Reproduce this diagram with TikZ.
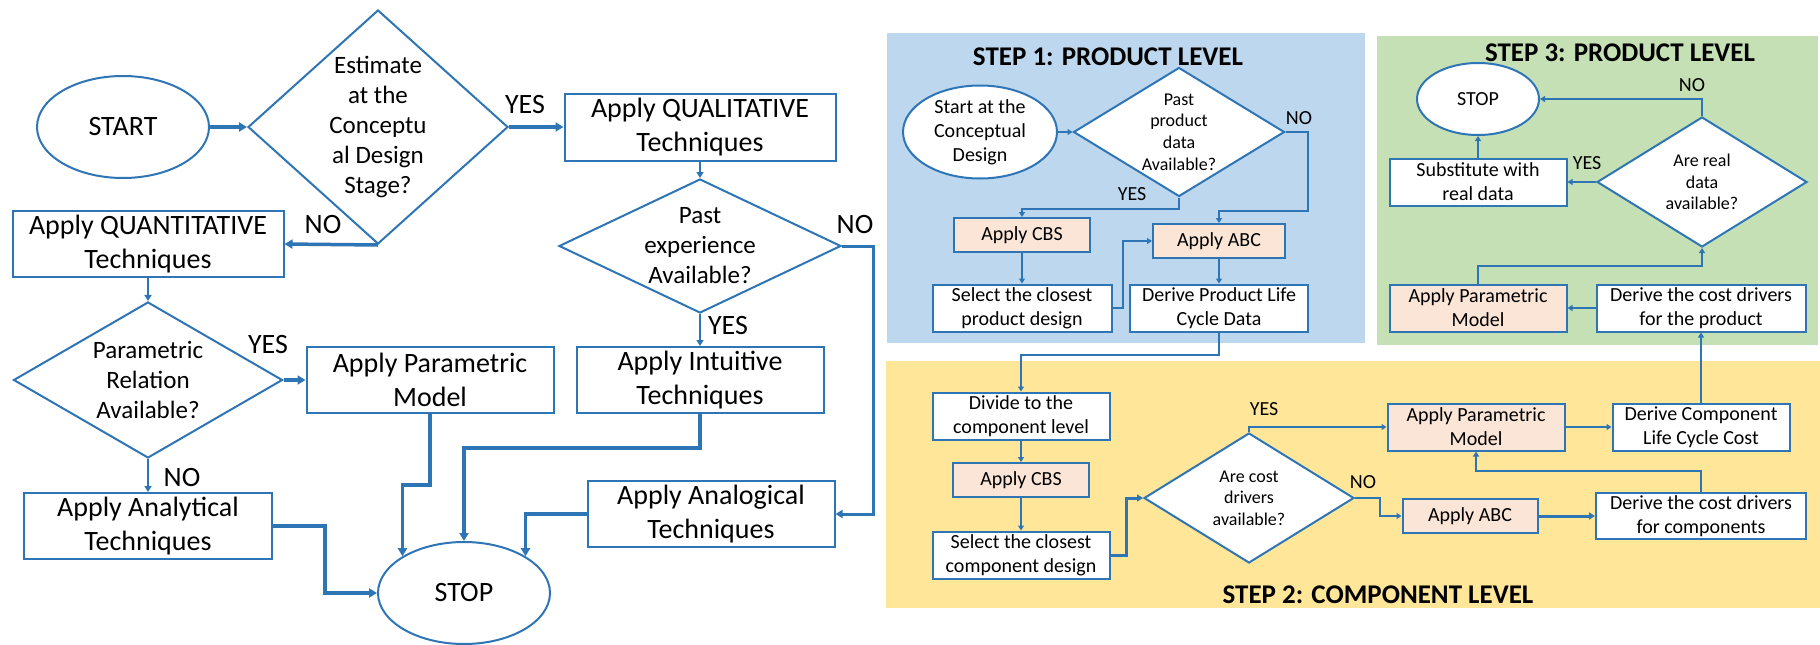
\documentclass[tikz,border=0pt]{standalone}
\usepackage{fontspec}
\setmainfont{Carlito}
\usepackage{xcolor}
\usetikzlibrary{shapes.geometric, arrows.meta}

\definecolor{flowblue}{RGB}{46,117,182}
\definecolor{panelblue}{RGB}{189,215,238}
\definecolor{panelgreen}{RGB}{197,224,180}
\definecolor{panelyellow}{RGB}{255,230,153}
\definecolor{boxtan}{RGB}{251,229,214}

\begin{document}
\begin{tikzpicture}[x=1pt, y=-1pt,
    fbig/.style={font=\fontsize{28}{34}\selectfont},
    fmid/.style={font=\fontsize{25}{30}\selectfont},
    fsmall/.style={font=\fontsize{20}{24}\selectfont},
    ftiny/.style={font=\fontsize{18}{21.7}\selectfont},
    box/.style={draw=flowblue, line width=2pt, fill=white, align=center, inner sep=0pt},
    tanbox/.style={box, fill=boxtan},
    oval/.style={ellipse, draw=flowblue, line width=2pt, fill=white, align=center, inner sep=0pt},
    dia/.style={diamond, draw=flowblue, line width=2pt, fill=white, align=center, inner sep=0pt},
    lab/.style={inner sep=0pt},
    steptitle/.style={font=\fontsize{27}{32}\selectfont\bfseries, inner sep=0pt},
    heavy/.style={draw=flowblue, line width=3.5pt, -{Triangle[length=8pt,width=9pt]}},
    midline/.style={draw=flowblue, line width=3pt, -{Triangle[length=7pt,width=8pt]}},
    light/.style={draw=flowblue, line width=2pt, -{Triangle[length=6pt,width=7pt]}},
    arr/.style={draw=flowblue, line width=2pt, -{Triangle[length=5pt,width=6pt]}},
    arrthick/.style={draw=flowblue, line width=3pt, -{Triangle[length=6pt,width=7pt]}}]
    \useasboundingbox (0,0) rectangle (1820,645);

    % Left flowchart: choosing the estimating technique
    \node[oval, fbig, minimum width=172pt, minimum height=102pt] (start) at (123,127) {START};
    \node[dia, fmid, aspect=1.1, minimum width=260pt, minimum height=234pt] (d1) at (378,127) {Estimate\\at the\\Conceptu\\al Design\\Stage?};
    \node[box, fbig, minimum width=271pt, minimum height=67pt] (qual) at (700,127) {Apply QUALITATIVE\\Techniques};
    \node[box, fbig, minimum width=271pt, minimum height=66pt] (quant) at (148,244) {Apply QUANTITATIVE\\Techniques};
    \node[dia, fmid, aspect=2.1, minimum width=282pt, minimum height=134pt] (d2) at (700,246) {Past\\experience\\Available?};
    \node[dia, fmid, aspect=1.7, minimum width=269pt, minimum height=156pt] (d3) at (148,380) {Parametric\\Relation\\Available?};
    \node[box, fbig, minimum width=247pt, minimum height=66pt] (param) at (430,380) {Apply Parametric\\Model};
    \node[box, fbig, minimum width=247pt, minimum height=66pt] (intu) at (700,380) {Apply Intuitive\\Techniques};
    \node[box, fbig, minimum width=248pt, minimum height=66pt] (analyt) at (148,526) {Apply Analytical\\Techniques};
    \node[box, fbig, minimum width=247pt, minimum height=66pt] (analog) at (711,514) {Apply Analogical\\Techniques};
    \node[oval, fbig, minimum width=172pt, minimum height=102pt] (stop) at (464,593) {STOP};

    \draw[heavy] (start.east) -- (d1.west);
    \draw[heavy] (d1.east) -- (qual.west);
    \draw[heavy] (d1.south) -- (quant.east);
    \draw[light] (qual) -- (d2);
    \draw[light] (quant) -- (d3);
    \draw[heavy] (d3.east) -- (param.west);
    \draw[light] (d3) -- (analyt);
    \draw[light] (d2) -- (intu);
    \draw[midline] (d2.east) -- ++(31,0) |- (analog.east);
    \draw[heavy] (analyt.east) -- ++(52,0) |- (stop.west);
    \draw[heavy] (param.south) -- ++(0,71) -| (stop.north west);
    \draw[heavy] (intu.south) -- ++(0,34) -| (stop.north);
    \draw[heavy] (analog.west) -| (stop.north east);

    \node[lab, fbig] (yes1) at (525,105) {YES};
    \node[lab, fbig] (no1) at (323,225) {NO};
    \node[lab, fbig] (no2) at (855,225) {NO};
    \node[lab, fbig] (yes2) at (728,326) {YES};
    \node[lab, fbig] (yes3) at (268,345) {YES};
    \node[lab, fbig] (no3) at (182,478) {NO};

    % Panels
    \fill[panelblue] (887,33) rectangle (1365,343);
    \fill[panelgreen] (1377,36) rectangle (1818,345);
    \fill[panelyellow] (886,361) rectangle (1820,608);
    \node[steptitle] (t1) at (1108,57) {STEP 1: PRODUCT LEVEL};
    \node[steptitle] (t2) at (1378,595) {STEP 2: COMPONENT LEVEL};
    \node[steptitle] (t3) at (1620,53) {STEP 3: PRODUCT LEVEL};

    % Step 1
    \node[oval, fsmall, minimum width=154pt, minimum height=93pt] (s1start) at (980,132) {Start at the\\Conceptual\\Design};
    \node[dia, ftiny, aspect=1.6, minimum width=211pt, minimum height=129pt] (d4) at (1179,132) {Past\\product\\data\\Available?};
    \node[tanbox, fsmall, minimum width=136pt, minimum height=34pt] (cbs1) at (1022,235) {Apply CBS};
    \node[tanbox, fsmall, minimum width=132pt, minimum height=34pt] (abc1) at (1219,241) {Apply ABC};
    \node[box, fsmall, minimum width=179pt, minimum height=47pt] (sel1) at (1022,308) {Select the closest\\product design};
    \node[box, fsmall, minimum width=178pt, minimum height=47pt] (der1) at (1219,308) {Derive Product Life\\Cycle Data};

    % Step 2
    \node[box, fsmall, minimum width=177pt, minimum height=47pt] (div) at (1021,416) {Divide to the\\component level};
    \node[tanbox, fsmall, minimum width=136pt, minimum height=34pt] (cbs2) at (1021,480) {Apply CBS};
    \node[box, fsmall, minimum width=177pt, minimum height=47pt] (sel2) at (1021,555) {Select the closest\\component design};
    \node[dia, ftiny, aspect=1.7, minimum width=210pt, minimum height=130pt] (d6) at (1249,498) {Are cost\\drivers\\available?};
    \node[tanbox, fsmall, minimum width=177pt, minimum height=47pt] (pm2) at (1476,427) {Apply Parametric\\Model};
    \node[box, fsmall, minimum width=177pt, minimum height=47pt] (dclcc) at (1701,427) {Derive Component\\Life Cycle Cost};
    \node[tanbox, fsmall, minimum width=135pt, minimum height=34pt] (abc2) at (1470,516) {Apply ABC};
    \node[box, fsmall, minimum width=210pt, minimum height=46pt] (dcdc) at (1701,516) {Derive the cost drivers\\for components};

    % Step 3
    \node[oval, fsmall, minimum width=122pt, minimum height=72pt] (stop3) at (1478,99) {STOP};
    \node[dia, ftiny, aspect=1.7, minimum width=210pt, minimum height=130pt] (d5) at (1702,182) {Are real\\data\\available?};
    \node[box, fsmall, minimum width=177pt, minimum height=47pt] (subst) at (1478,182) {Substitute with\\real data};
    \node[tanbox, fsmall, minimum width=177pt, minimum height=47pt] (pm3) at (1478,308) {Apply Parametric\\Model};
    \node[box, fsmall, minimum width=209pt, minimum height=47pt] (dcdp) at (1701,308) {Derive the cost drivers\\for the product};

    % Step connectors
    \draw[arr] (s1start) -- (d4);
    \draw[arr] (d4.east) -- ++(22,0) -- ++(0,79) -| (abc1.north);
    \draw[arr] (d4.south) -- ++(0,11) -| (cbs1.north);
    \draw[arr] (sel1.east) -- ++(10,0) |- (abc1.west);
    \draw[arr] (der1.south) -- ++(0,22) -| (div.north);
    \foreach \a/\b in {cbs1/sel1, abc1/der1, div/cbs2, cbs2/sel2}
        \draw[arr] (\a) -- (\b);
    \draw[arrthick] (sel2.east) -- ++(16,0) |- (d6.west);
    \draw[arr] (d6.north) |- (pm2.west);
    \draw[arr] (pm2) -- (dclcc);
    \draw[arr] (d6.east) -- ++(25,0) |- (abc2.west);
    \draw[arrthick] (abc2) -- (dcdc);
    \draw[arr] (dcdc.north) -- ++(0,-21) -| (pm2.south);
    \draw[arr] (dclcc) -- (dcdp);
    \draw[arr] (d5.north) |- (stop3.east);
    \draw[arr] (d5) -- (subst);
    \draw[arr] (subst) -- (stop3);
    \draw[arr] (dcdp) -- (pm3);
    \draw[arr] (pm3.north) -- ++(0,-18) -| (d5.south);

    \node[lab, fsmall] (no4) at (1299,118) {NO};
    \node[lab, fsmall] (yes4) at (1132,194) {YES};
    \node[lab, fsmall] (yes6) at (1264,409) {YES};
    \node[lab, fsmall] (no6) at (1363,482) {NO};
    \node[lab, fsmall] (no5) at (1692,85) {NO};
    \node[lab, fsmall] (yes5) at (1587,163) {YES};
\end{tikzpicture}
\end{document}
